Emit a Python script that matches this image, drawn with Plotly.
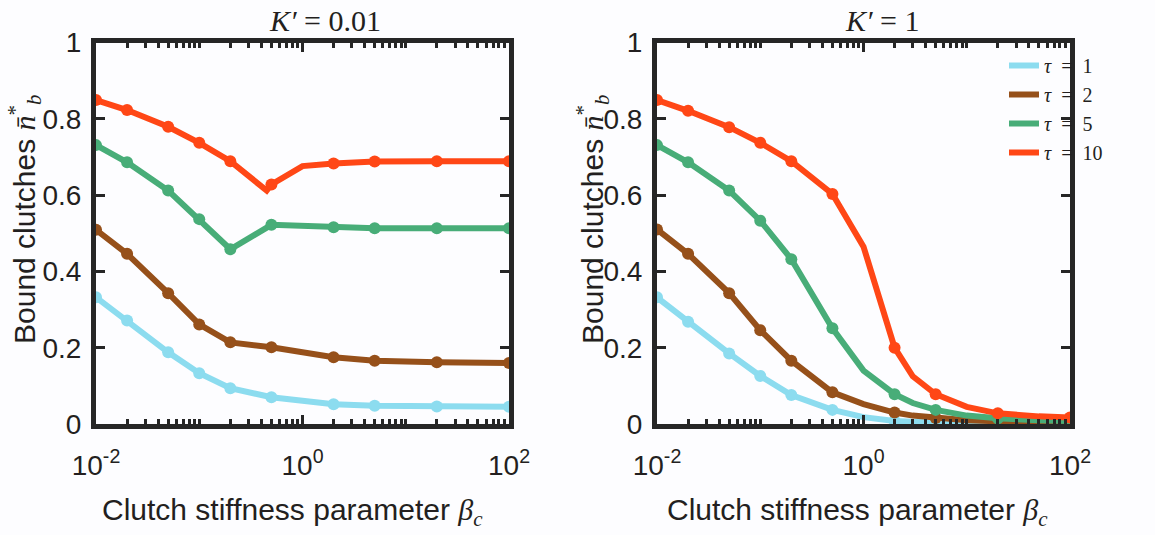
import plotly.graph_objects as go

# ---- data -------------------------------------------------------------
# clutch stiffness values carrying a marker
BETA_MARKED = [0.01, 0.02, 0.05, 0.1, 0.2, 0.5, 2, 5, 20, 100]
TAU_NAMES = ["1", "2", "5", "10"]

# K' = 0.01 : bound clutch fraction at the marked beta values
LEFT_TAU1 = [0.332, 0.271, 0.188, 0.133, 0.094, 0.070, 0.052, 0.048, 0.046, 0.045]
LEFT_TAU2 = [0.509, 0.446, 0.343, 0.261, 0.214, 0.201, 0.175, 0.166, 0.162, 0.160]
LEFT_TAU5 = [0.731, 0.686, 0.612, 0.537, 0.458, 0.522, 0.516, 0.513, 0.513, 0.513]
LEFT_TAU10 = [0.849, 0.823, 0.779, 0.737, 0.689, 0.628, 0.683, 0.688, 0.689, 0.689]
# extra (unmarked) samples along the tau = 10 curve
LEFT_TAU10_EXTRA_BETA = [0.45, 1]
LEFT_TAU10_EXTRA = [0.612, 0.676]

# K' = 1
RIGHT_TAU1 = [0.332, 0.268, 0.185, 0.126, 0.076, 0.037, 0.008, 0.003, 0.001, 0.0005]
RIGHT_TAU2 = [0.510, 0.446, 0.343, 0.246, 0.166, 0.083, 0.030, 0.016, 0.007, 0.004]
RIGHT_TAU5 = [0.731, 0.686, 0.612, 0.533, 0.432, 0.251, 0.078, 0.037, 0.015, 0.008]
RIGHT_TAU10 = [0.849, 0.821, 0.778, 0.737, 0.689, 0.603, 0.200, 0.078, 0.028, 0.017]
# extra (unmarked) samples along the K' = 1 curves
RIGHT_EXTRA_BETA = [1, 3, 10, 50]
RIGHT_TAU1_EXTRA = [0.018, 0.005, 0.002, 0.001]
RIGHT_TAU2_EXTRA = [0.052, 0.022, 0.010, 0.005]
RIGHT_TAU5_EXTRA = [0.140, 0.055, 0.022, 0.010]
RIGHT_TAU10_EXTRA = [0.465, 0.125, 0.045, 0.020]

X_TICKS = [0.01, 1, 100]
X_TICK_TEXT = ["10<sup>-2</sup>", "10<sup>0</sup>", "10<sup>2</sup>"]
Y_TICKS = [0, 0.2, 0.4, 0.6, 0.8, 1]
Y_TICK_TEXT = ["0", "0.2", "0.4", "0.6", "0.8", "1"]

# ---- style ------------------------------------------------------------
COLORS = ["#8cdcef", "#96501a", "#48ad78", "#ff4716"]
INK = "#231f20"
FRAME = "#262626"
BG = "#fdfdff"
SANS = "Liberation Sans, Arial, sans-serif"
SERIF = "Liberation Serif, Times New Roman, serif"

left_series = [
    (LEFT_TAU1, [], []),
    (LEFT_TAU2, [], []),
    (LEFT_TAU5, [], []),
    (LEFT_TAU10, LEFT_TAU10_EXTRA_BETA, LEFT_TAU10_EXTRA),
]
right_series = [
    (RIGHT_TAU1, RIGHT_EXTRA_BETA, RIGHT_TAU1_EXTRA),
    (RIGHT_TAU2, RIGHT_EXTRA_BETA, RIGHT_TAU2_EXTRA),
    (RIGHT_TAU5, RIGHT_EXTRA_BETA, RIGHT_TAU5_EXTRA),
    (RIGHT_TAU10, RIGHT_EXTRA_BETA, RIGHT_TAU10_EXTRA),
]

fig = go.Figure()

for panel, (series, xa, ya) in enumerate([(left_series, "x", "y"), (right_series, "x2", "y2")]):
    for i, (vals, ex_b, ex_v) in enumerate(series):
        pts = sorted(list(zip(BETA_MARKED, vals)) + list(zip(ex_b, ex_v)))
        fig.add_trace(go.Scatter(
            x=[p[0] for p in pts], y=[p[1] for p in pts],
            mode="lines", line=dict(color=COLORS[i], width=6),
            name=f"<i>τ</i>\u2002=\u2002{TAU_NAMES[i]}",
            showlegend=(panel == 1), legendrank=i,
            xaxis=xa, yaxis=ya, hoverinfo="skip",
        ))
        fig.add_trace(go.Scatter(
            x=BETA_MARKED, y=vals, mode="markers",
            marker=dict(color=COLORS[i], size=12, line=dict(width=0)),
            showlegend=False, xaxis=xa, yaxis=ya,
        ))

# minor log ticks at every 1..9 x 10^k that is not a labelled decade
minor_vals = [m * 10 ** e for e in range(-2, 2) for m in range(1, 10)
              if not (m == 1 and e in (-2, 0))]

xaxis_common = dict(
    type="log", range=[-2, 2], automargin=False,
    tickmode="array", tickvals=X_TICKS, ticktext=X_TICK_TEXT,
    ticks="inside", ticklen=9, tickwidth=3, tickcolor=FRAME,
    minor=dict(ticks="inside", ticklen=5, tickwidth=3, tickcolor=FRAME,
               tickmode="array", tickvals=minor_vals),
    showline=True, linewidth=5, linecolor=FRAME, mirror="allticks",
    showgrid=False, zeroline=False,
    tickfont=dict(family=SANS, size=28, color=INK),
    ticklabelstandoff=12,
)
yaxis_common = dict(
    range=[0, 1], automargin=False,
    tickmode="array", tickvals=Y_TICKS, ticktext=Y_TICK_TEXT,
    ticks="inside", ticklen=9, tickwidth=3, tickcolor=FRAME,
    showline=True, linewidth=5, linecolor=FRAME, mirror="allticks",
    showgrid=False, zeroline=False,
    tickfont=dict(family=SANS, size=28, color=INK),
    ticklabelstandoff=4,
)

W, H = 1155, 535
ydom = [1 - 424 / H, 1 - 42.5 / H]

fig.update_layout(
    template="none",
    width=W, height=H, autosize=False,
    margin=dict(l=0, r=0, t=0, b=0, pad=0),
    paper_bgcolor=BG, plot_bgcolor=BG,
    xaxis=dict(domain=[96 / W, 509 / W], anchor="y", **xaxis_common),
    yaxis=dict(domain=ydom, anchor="x", **yaxis_common),
    xaxis2=dict(domain=[657 / W, 1070 / W], anchor="y2", **xaxis_common),
    yaxis2=dict(domain=ydom, anchor="x2", **yaxis_common),
    legend=dict(
        x=1004 / W, y=1 - 46 / H, xanchor="left", yanchor="top",
        bgcolor="rgba(0,0,0,0)", borderwidth=0,
        font=dict(family=SERIF, size=20, color=INK),
        tracegroupgap=0, itemwidth=30,
    ),
    showlegend=True,
)

xtitle = ("Clutch stiffness parameter "
          "<span style='font-family:Liberation Serif'><i>β</i><sub><i>c</i></sub></span>")
ytitle = ("Bound clutches "
          "<span style='font-family:Liberation Serif'><i>n̄</i><sup>*</sup><sub><i>b</i></sub></span>")

annotations = [
    dict(text="<i>K′</i> = 0.01", x=325 / W, y=1 - 20 / H),
    dict(text="<i>K′</i> = 1", x=882 / W, y=1 - 20 / H),
]
for a in annotations:
    a.update(xref="paper", yref="paper", xanchor="center", yanchor="middle",
             showarrow=False, font=dict(family=SERIF, size=30, color=INK))

for cx in (292 / W, 857 / W):
    annotations.append(dict(
        text=xtitle, x=cx, y=1 - 512 / H, xref="paper", yref="paper",
        xanchor="center", yanchor="middle", showarrow=False,
        font=dict(family=SANS, size=30, color=INK)))
for cx in (24 / W, 592 / W):
    annotations.append(dict(
        text=ytitle, x=cx, y=1 - 220 / H, xref="paper", yref="paper",
        xanchor="center", yanchor="middle", showarrow=False, textangle=-90,
        font=dict(family=SANS, size=30, color=INK)))

fig.update_layout(annotations=annotations)

fig.write_html("out.html")
